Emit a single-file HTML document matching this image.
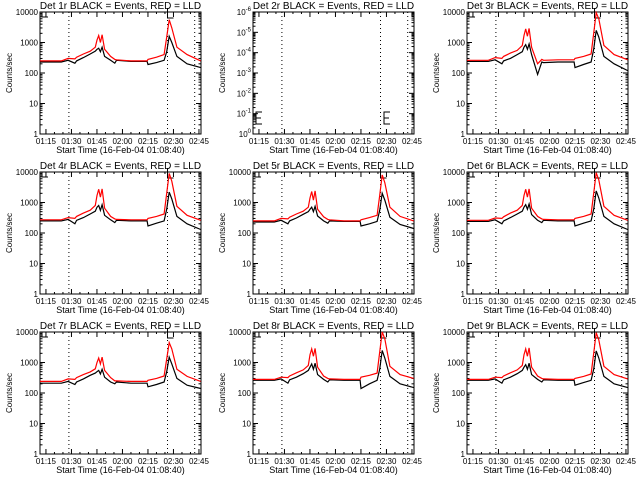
<!DOCTYPE html>
<html><head><meta charset="utf-8"><style>
html,body{margin:0;padding:0;background:#fff;}
svg{display:block;font-family:"Liberation Sans",sans-serif;}
</style></head><body>
<svg id="chart" width="640" height="480" viewBox="0 0 640 480" xmlns="http://www.w3.org/2000/svg"></svg>
<script>
// Data: times in minutes after 01:00
const times = [71.5,84,88,92,93,97,101,104,105,106,107,108,109.5,113,115.5,116.5,125,134.5,135,140,144.5,146,147.5,149,152,158,166];
const xTicks = [75,90,105,120,135,150,165];
const xTickLabels = ["01:15","01:30","01:45","02:00","02:15","02:30","02:45"];
const yTicks = [1,10,100,1000,10000];
const yTickLabels = ["1","10","100","1000","10000"];
const markerTimes = [88.5,146.5,162.5];
const detNames = ["1r","2r","3r","4r","5r","6r","7r","8r","9r"];
const black1 = [230,230,260,210,250,320,420,520,600,650,500,700,350,260,210,260,240,240,190,220,260,500,1600,1000,350,200,150];
const red1   = [250,250,300,290,330,420,520,700,1200,1700,1000,1800,600,350,280,270,250,250,280,330,400,1500,5600,3000,700,400,250];
const black3 = [240,240,270,200,250,300,400,500,700,850,600,900,400,90,230,220,230,230,150,190,230,600,2500,1500,350,200,120];
const red3   = [260,260,320,300,350,450,550,800,1700,2800,1600,2900,700,200,280,260,270,270,300,350,420,2000,9500,6000,800,400,270];
const black4 = [250,250,280,200,260,320,420,520,700,800,550,850,380,270,220,260,250,250,170,210,250,600,2200,1300,350,200,130];
const red4   = [270,270,320,300,350,450,560,800,1700,2700,1500,2800,650,350,290,280,270,270,300,350,420,2000,9000,5000,750,380,260];
const black5 = [230,230,260,200,250,310,410,500,600,700,500,750,360,250,210,250,240,240,170,200,240,550,2000,1200,330,190,140];
const red5   = [250,250,300,290,330,420,520,700,1400,2300,1200,2400,600,340,280,270,250,250,270,320,380,1700,8000,4500,700,350,250];
const black6 = [240,240,270,200,250,320,420,520,700,850,600,900,400,260,220,260,250,250,170,210,250,600,2400,1400,350,200,130];
const red6   = [260,260,310,300,340,450,560,800,1700,2700,1500,2800,650,350,290,280,270,270,300,350,420,2000,9500,5500,750,380,260];
const black7 = [210,210,240,190,230,290,380,450,500,550,420,600,330,230,200,230,210,210,160,190,230,500,1500,900,300,180,140];
const red7   = [240,240,290,280,320,400,490,620,1000,1400,900,1500,550,320,250,250,240,240,260,300,360,1300,4500,2800,600,350,240];
const black8 = [260,260,290,210,270,330,430,550,700,900,600,950,400,280,230,270,260,260,140,200,260,600,2500,1400,350,200,150];
const red8   = [280,280,330,320,360,460,570,800,1800,2800,1600,2900,700,360,300,290,280,280,330,380,450,2200,10000,6000,750,400,300];
const black9 = [260,260,290,210,270,330,430,550,700,850,600,950,400,280,230,270,260,260,180,220,260,600,2400,1400,350,200,150];
const red9   = [280,280,330,320,360,460,570,800,1800,2800,1600,3000,700,360,300,290,280,280,300,350,420,2000,9500,5500,750,400,290];
const blackSeries = [black1,null,black3,black4,black5,black6,black7,black8,black9];
const redSeries = [red1,null,red3,red4,red5,red6,red7,red8,red9];

const NS="http://www.w3.org/2000/svg";
const svg=document.getElementById('chart');
const colX=[0,213,427], rowY=[0,160,320];
const L=40,R=201,T=12,B=134,tMin=71.5,tMax=166.2;
function mk(tag,attrs,parent){const e=document.createElementNS(NS,tag);for(const k in attrs)e.setAttribute(k,attrs[k]);(parent||svg).appendChild(e);return e;}
function xs(t){return L+(t-tMin)/(tMax-tMin)*(R-L);}
function ysLog(v,lo,hi){return B-(Math.log10(v)-lo)/(hi-lo)*(B-T);}

for(let p=0;p<9;p++){
  const ox=colX[p%3], oy=rowY[Math.floor(p/3)];
  const g=mk('g',{transform:`translate(${ox},${oy})`});
  
  
  const title=mk('text',{x:(L+R)/2,y:9,'font-size':'10','text-anchor':'middle',fill:'#000'},g);
  title.textContent='Det '+detNames[p]+' BLACK = Events, RED = LLD';
  
  
  const frame=mk('rect',{x:L,y:T,width:R-L,height:B-T,fill:'none',stroke:'#000','stroke-width':1},g);
  
  
  for(let i=0;i<xTicks.length;i++){
    const x=xs(xTicks[i]);
    mk('line',{x1:x,y1:B,x2:x,y2:B-5,stroke:'#000'},g);
    mk('line',{x1:x,y1:T,x2:x,y2:T+5,stroke:'#000'},g);
    const tl=mk('text',{x:x,y:B+10,'font-size':'8','text-anchor':'middle'},g);
    tl.textContent=xTickLabels[i];
    
    
  }
  for(let t=75;t<=166;t+=5){ if((t-75)%15===0)continue; const x=xs(t);
    mk('line',{x1:x,y1:B,x2:x,y2:B-2,stroke:'#000'},g);
    mk('line',{x1:x,y1:T,x2:x,y2:T+2,stroke:'#000'},g);}
  const xl=mk('text',{x:(L+R)/2,y:B+19,'font-size':'9','text-anchor':'middle'},g);
  xl.textContent='Start Time (16-Feb-04 01:08:40)';
  
  
  const yl=mk('text',{x:0,y:0,'font-size':'8','text-anchor':'middle',transform:`translate(12,${(T+B)/2}) rotate(-90)`},g);
  yl.textContent='Counts/sec';
  
  
  let lo=0,hi=4,nDec=4;
  if(p===1){lo=0;hi=6;nDec=6;}
  for(let d=0;d<=nDec;d++){
    const y=B-d/nDec*(B-T);
    mk('line',{x1:L,y1:y,x2:L+5,y2:y,stroke:'#000'},g);
    mk('line',{x1:R,y1:y,x2:R-5,y2:y,stroke:'#000'},g);
    if(d<nDec){for(let m=2;m<10;m++){const ym=y-Math.log10(m)/nDec*(B-T);
      mk('line',{x1:L,y1:ym,x2:L+2.5,y2:ym,stroke:'#000'},g);
      mk('line',{x1:R,y1:ym,x2:R-2.5,y2:ym,stroke:'#000'},g);}}
    const lab=mk('text',{x:L-2,y:y+3,'font-size':'8','text-anchor':'end'},g);
    if(p===1){lab.textContent='10';const s=mk('tspan',{dy:'-4','font-size':'6'},lab);s.textContent=(d===0?'0':'-'+d);}
    else lab.textContent=yTickLabels[d];
    
    
  }
  for(const mt of markerTimes){const x=xs(mt);
    const ml=mk('line',{x1:x,y1:T,x2:x,y2:B,stroke:'#000','stroke-dasharray':'1,3'},g);
    
    }
  if(p===1){
    for(const ex of [43,171]){
      mk('path',{d:`M${ex+6},112 H${ex} V124 H${ex+6} M${ex},118 H${ex+5}`,fill:'none',stroke:'#000'},g);
    }
    continue;
  }
  mk('path',{d:`M${L+2},${T} V${T+5} H${L+8}`,fill:'none',stroke:'#000'},g);
  const fx=xs(146.5);
  mk('path',{d:`M${fx},${T-4} V${T+6} H${fx+6}`,fill:'none',stroke:'#000'},g);
  const series=[[blackSeries[p],'#000','events-line'],[redSeries[p],'#f00','lld-line']];
  for(const [vals,col,name] of series){
    let d='';
    for(let i=0;i<times.length;i++){d+=(i?'L':'M')+xs(times[i]).toFixed(1)+','+ysLog(vals[i],lo,hi).toFixed(1);}
    const pa=mk('path',{d:d,fill:'none',stroke:col,'stroke-width':1.2},g);
    
    
  }
}
</script>
</body></html>
